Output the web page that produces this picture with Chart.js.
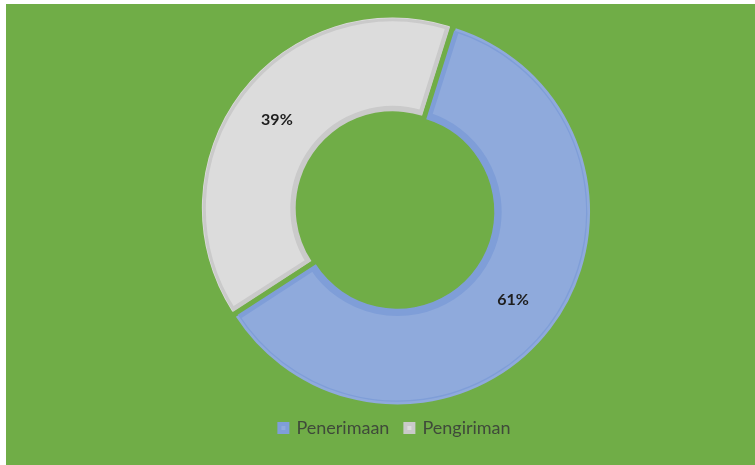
<!DOCTYPE html>
<html>
<head>
<meta charset="utf-8">
<script src="https://cdn.jsdelivr.net/npm/chart.js@4/dist/chart.umd.min.js"></script>
<style>
  html, body { margin: 0; padding: 0; background: #ffffff; }
  #wrap { position: absolute; left: 6px; top: 4px; width: 749px; height: 461px; background: #70AD47; }
  canvas { display: block; }
</style>
</head>
<body>
<div id="wrap"><canvas id="c" width="749" height="461"></canvas></div>
<script>
const categories = ['Penerimaan', 'Pengiriman'];
const values = [61, 39];
const valueLabels = ['61%', '39%'];
const fillColors = ['#8FAADC', '#DCDCDC'];
const borderColors = ['#7F9ED8', '#CACACA'];

const labelPlugin = {
  id: 'sliceLabels',
  afterDatasetsDraw(chart) {
    const ctx = chart.ctx;
    const meta = chart.getDatasetMeta(0);
    ctx.save();
    ctx.font = 'bold 16px Lato, "Liberation Sans", sans-serif';
    ctx.fillStyle = '#1E1E1E';
    ctx.textAlign = 'center';
    ctx.textBaseline = 'middle';
    meta.data.forEach((arc, i) => {
      const p = arc.getProps(['x', 'y', 'startAngle', 'endAngle', 'innerRadius', 'outerRadius'], true);
      const mid = (p.startAngle + p.endAngle) / 2;
      const off = (arc.options.offset || 0) / 4;
      const r = (p.innerRadius + p.outerRadius) / 2 + off + 2;
      ctx.fillText(valueLabels[i], p.x + Math.cos(mid) * r, p.y + Math.sin(mid) * r);
    });
    ctx.restore();
  }
};

new Chart(document.getElementById('c'), {
  type: 'doughnut',
  data: {
    labels: categories,
    datasets: [{
      data: values,
      backgroundColor: fillColors,
      borderColor: borderColors,
      borderWidth: 4,
      borderAlign: 'inner',
      offset: 12,
      hoverOffset: 0
    }]
  },
  options: {
    responsive: false,
    animation: false,
    rotation: 17.5,
    radius: 190,
    cutout: '51%',
    layout: { padding: { top: 13, bottom: 18, left: 29, right: 0 } },
    plugins: {
      tooltip: { enabled: false },
      legend: {
        position: 'bottom',
        labels: {
          boxWidth: 8,
          boxHeight: 8,
          padding: 16,
          color: '#3F4A3A',
          font: { family: 'Lato, "Liberation Sans", sans-serif', size: 18 }
        }
      }
    }
  },
  plugins: [labelPlugin]
});
</script>
</body>
</html>
